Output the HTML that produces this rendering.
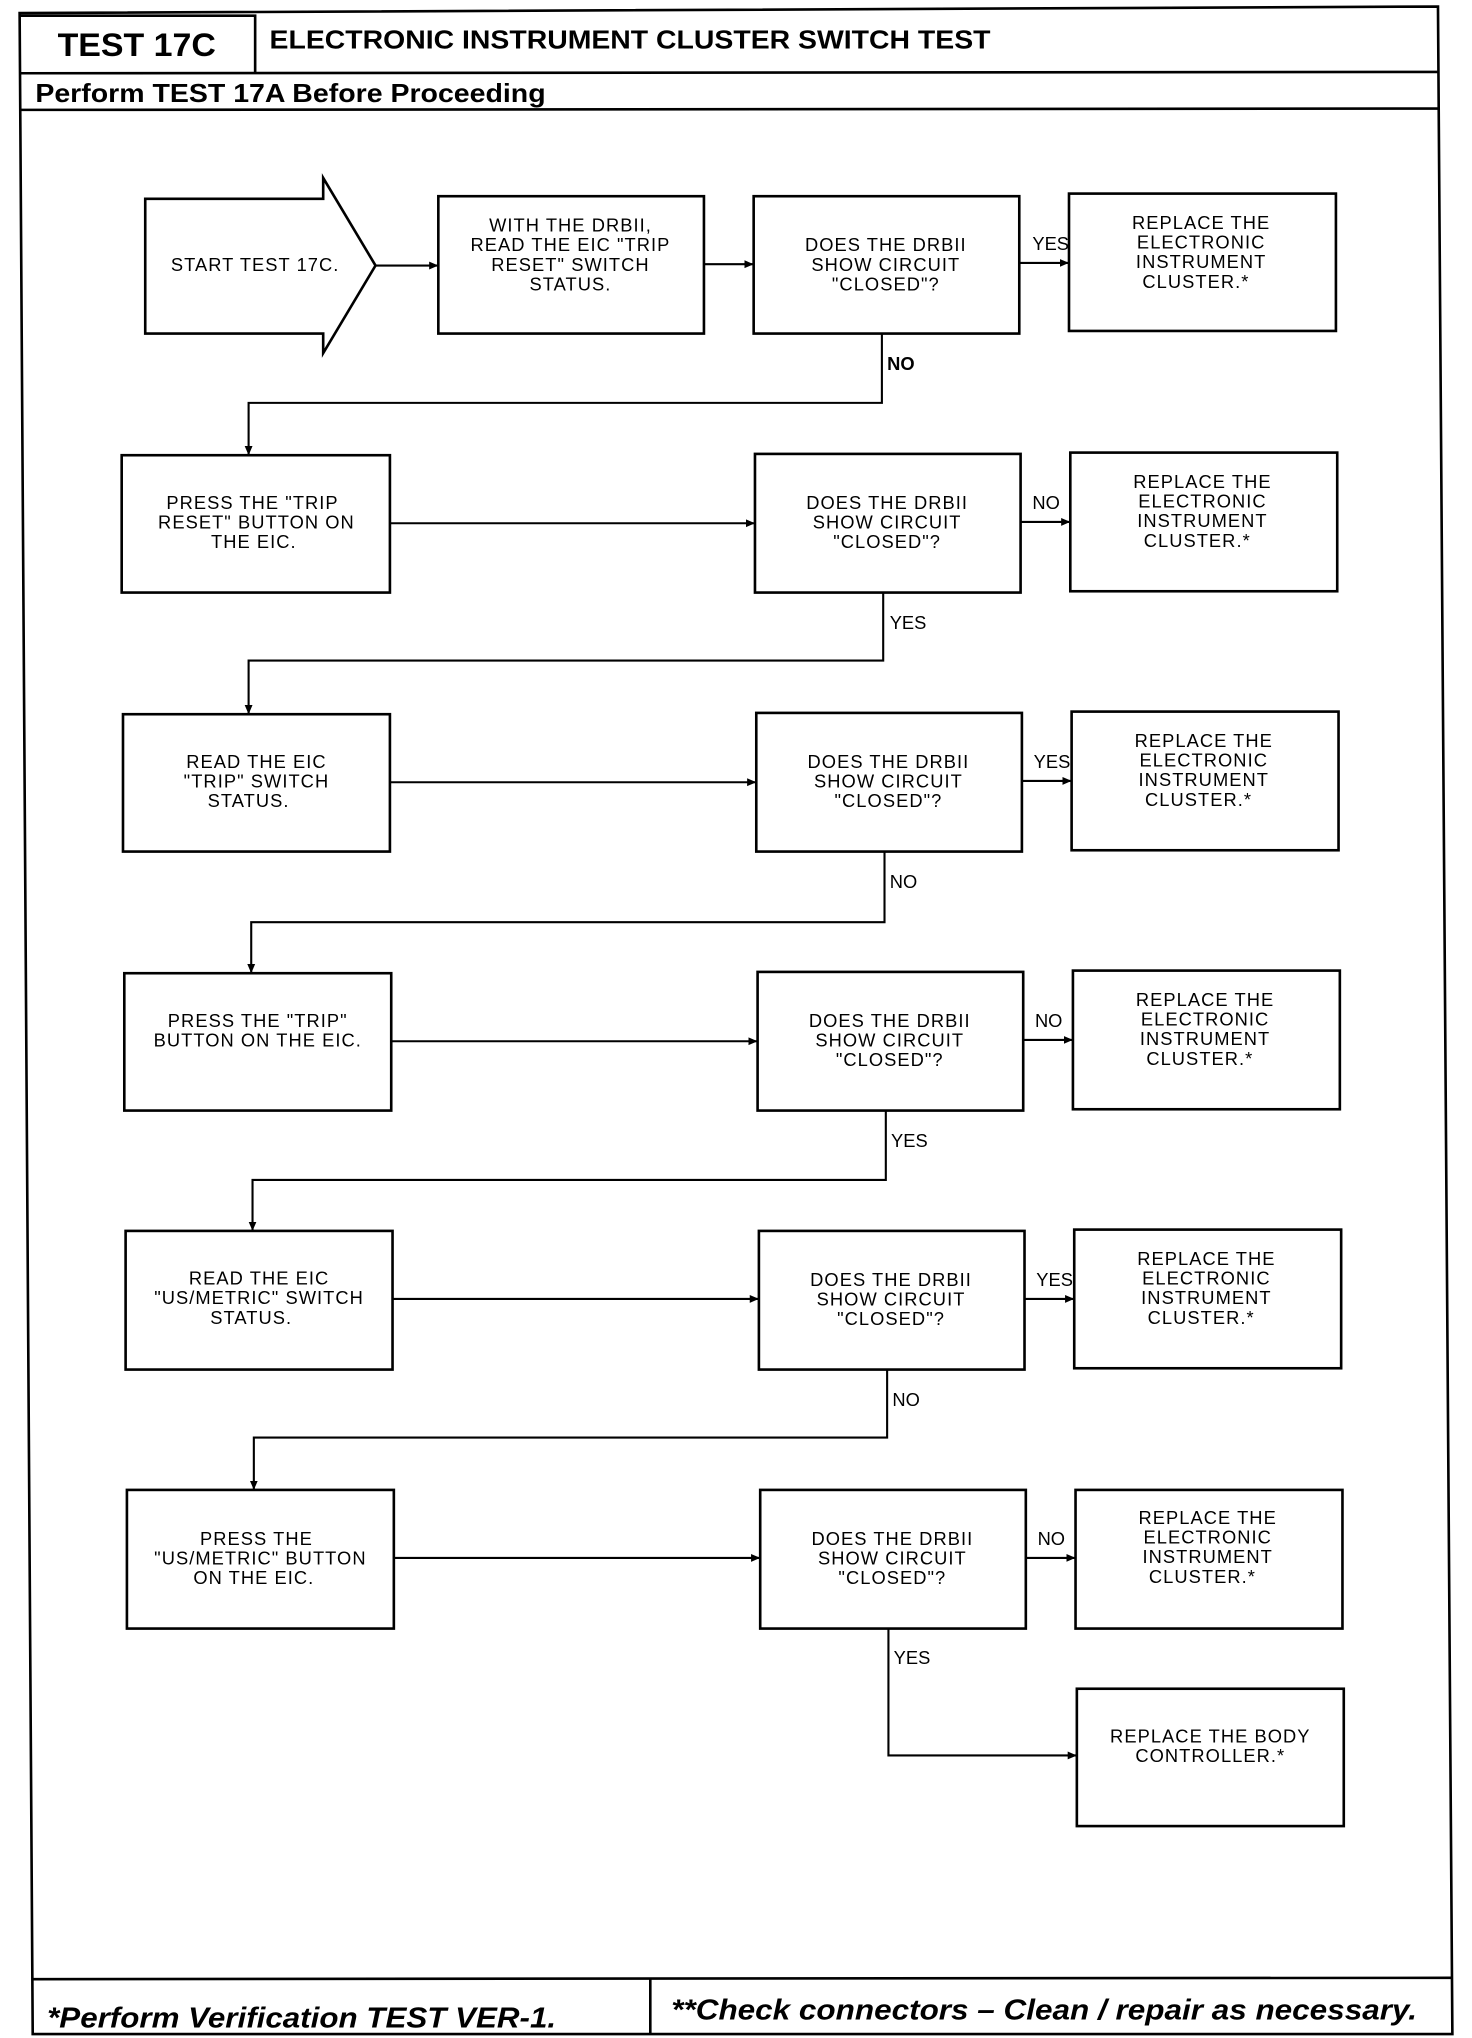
<!DOCTYPE html>
<html><head><meta charset="utf-8"><style>
html,body{margin:0;padding:0;background:#fff;}
svg{display:block;}
.b{fill:none;stroke:#000;stroke-width:2;}
.l{fill:none;stroke:#000;stroke-width:1.6;}
.t{font-family:"Liberation Sans",sans-serif;font-size:14px;letter-spacing:0.8px;text-anchor:middle;fill:#000;}
.lb{font-family:"Liberation Sans",sans-serif;font-size:14px;fill:#000;}
.h{font-family:"Liberation Sans",sans-serif;font-weight:bold;}
</style></head><body>
<svg width="1472" height="2038" viewBox="0 0 1125 1558" preserveAspectRatio="none" xmlns="http://www.w3.org/2000/svg">
<defs><marker id="a" markerWidth="8" markerHeight="8" refX="7" refY="4" orient="auto" markerUnits="userSpaceOnUse"><path d="M0,1 L7,4 L0,7 Z" fill="#000"/></marker></defs>
<path class="b" d="M15,10 L1099,5 L1110,1555 L25,1555 Z"/>
<line class="b" x1="15" y1="56" x2="1100" y2="55"/>
<line class="b" x1="16" y1="84" x2="1100" y2="83"/>
<path class="b" d="M15,12 L195,12 L195,55"/>
<text class="h" x="44" y="43" font-size="25" textLength="121" lengthAdjust="spacingAndGlyphs">TEST 17C</text>
<text class="h" x="206" y="37" font-size="20" textLength="551" lengthAdjust="spacingAndGlyphs">ELECTRONIC INSTRUMENT CLUSTER SWITCH TEST</text>
<text class="h" x="27" y="78" font-size="20" textLength="390" lengthAdjust="spacingAndGlyphs">Perform TEST 17A Before Proceeding</text>
<line class="b" x1="24" y1="1513" x2="1110" y2="1512"/>
<line class="b" x1="497" y1="1513" x2="497" y2="1555"/>
<text class="h" x="36" y="1550" font-size="22" font-style="italic" textLength="389" lengthAdjust="spacingAndGlyphs">*Perform Verification TEST VER-1.</text>
<text class="h" x="513" y="1544" font-size="22" font-style="italic" textLength="570" lengthAdjust="spacingAndGlyphs">**Check connectors – Clean / repair as necessary.</text>

<path class="b" d="M111,152 L247,152 L247,136 L287,203 L247,270 L247,255 L111,255 Z"/>
<text class="t" x="195" y="207">START TEST 17C.</text>
<rect class="b" x="335" y="150" width="203" height="105"/>
<text class="t" x="436" y="177">WITH THE DRBII,</text><text class="t" x="436" y="192">READ THE EIC "TRIP</text><text class="t" x="436" y="207">RESET" SWITCH</text><text class="t" x="436" y="222">STATUS.</text>
<rect class="b" x="576" y="150" width="203" height="105"/>
<text class="t" x="677" y="192">DOES THE DRBII</text><text class="t" x="677" y="207">SHOW CIRCUIT</text><text class="t" x="677" y="222">"CLOSED"?</text>
<rect class="b" x="817" y="148" width="204" height="105"/>
<text class="t" x="918" y="175">REPLACE THE</text><text class="t" x="918" y="190">ELECTRONIC</text><text class="t" x="918" y="205">INSTRUMENT</text><text class="t" x="914" y="220">CLUSTER.*</text>
<line class="l" x1="287" y1="203" x2="335" y2="203" marker-end="url(#a)"/>
<line class="l" x1="538" y1="202" x2="576" y2="202" marker-end="url(#a)"/>
<line class="l" x1="779" y1="201" x2="817" y2="201" marker-end="url(#a)"/>
<text class="lb" x="789" y="191">YES</text>
<polyline class="l" points="674,255 674,308 190,308 190,348" marker-end="url(#a)"/>
<text class="lb" x="678" y="283" style="font-weight:bold">NO</text>

<rect class="b" x="93" y="348" width="205" height="105"/>
<text class="t" x="193" y="389">PRESS THE "TRIP</text><text class="t" x="196" y="404">RESET" BUTTON ON</text><text class="t" x="194" y="419">THE EIC.</text>
<rect class="b" x="577" y="347" width="203" height="106"/>
<text class="t" x="678" y="389">DOES THE DRBII</text><text class="t" x="678" y="404">SHOW CIRCUIT</text><text class="t" x="678" y="419">"CLOSED"?</text>
<rect class="b" x="818" y="346" width="204" height="106"/>
<text class="t" x="919" y="373">REPLACE THE</text><text class="t" x="919" y="388">ELECTRONIC</text><text class="t" x="919" y="403">INSTRUMENT</text><text class="t" x="915" y="418">CLUSTER.*</text>
<line class="l" x1="298" y1="400" x2="577" y2="400" marker-end="url(#a)"/>
<line class="l" x1="780" y1="399" x2="818" y2="399" marker-end="url(#a)"/>
<text class="lb" x="789" y="389">NO</text>
<polyline class="l" points="675,453 675,505 190,505 190,546" marker-end="url(#a)"/>
<text class="lb" x="680" y="481">YES</text>

<rect class="b" x="94" y="546" width="204" height="105"/>
<text class="t" x="196" y="587">READ THE EIC</text><text class="t" x="196" y="602">"TRIP" SWITCH</text><text class="t" x="190" y="617">STATUS.</text>
<rect class="b" x="578" y="545" width="203" height="106"/>
<text class="t" x="679" y="587">DOES THE DRBII</text><text class="t" x="679" y="602">SHOW CIRCUIT</text><text class="t" x="679" y="617">"CLOSED"?</text>
<rect class="b" x="819" y="544" width="204" height="106"/>
<text class="t" x="920" y="571">REPLACE THE</text><text class="t" x="920" y="586">ELECTRONIC</text><text class="t" x="920" y="601">INSTRUMENT</text><text class="t" x="916" y="616">CLUSTER.*</text>
<line class="l" x1="298" y1="598" x2="578" y2="598" marker-end="url(#a)"/>
<line class="l" x1="781" y1="597" x2="819" y2="597" marker-end="url(#a)"/>
<text class="lb" x="790" y="587">YES</text>
<polyline class="l" points="676,651 676,705 192,705 192,744" marker-end="url(#a)"/>
<text class="lb" x="680" y="679">NO</text>

<rect class="b" x="95" y="744" width="204" height="105"/>
<text class="t" x="197" y="785">PRESS THE "TRIP"</text><text class="t" x="197" y="800">BUTTON ON THE EIC.</text>
<rect class="b" x="579" y="743" width="203" height="106"/>
<text class="t" x="680" y="785">DOES THE DRBII</text><text class="t" x="680" y="800">SHOW CIRCUIT</text><text class="t" x="680" y="815">"CLOSED"?</text>
<rect class="b" x="820" y="742" width="204" height="106"/>
<text class="t" x="921" y="769">REPLACE THE</text><text class="t" x="921" y="784">ELECTRONIC</text><text class="t" x="921" y="799">INSTRUMENT</text><text class="t" x="917" y="814">CLUSTER.*</text>
<line class="l" x1="299" y1="796" x2="579" y2="796" marker-end="url(#a)"/>
<line class="l" x1="782" y1="795" x2="820" y2="795" marker-end="url(#a)"/>
<text class="lb" x="791" y="785">NO</text>
<polyline class="l" points="677,849 677,902 193,902 193,941" marker-end="url(#a)"/>
<text class="lb" x="681" y="877">YES</text>

<rect class="b" x="96" y="941" width="204" height="106"/>
<text class="t" x="198" y="982">READ THE EIC</text><text class="t" x="198" y="997">"US/METRIC" SWITCH</text><text class="t" x="192" y="1012">STATUS.</text>
<rect class="b" x="580" y="941" width="203" height="106"/>
<text class="t" x="681" y="983">DOES THE DRBII</text><text class="t" x="681" y="998">SHOW CIRCUIT</text><text class="t" x="681" y="1013">"CLOSED"?</text>
<rect class="b" x="821" y="940" width="204" height="106"/>
<text class="t" x="922" y="967">REPLACE THE</text><text class="t" x="922" y="982">ELECTRONIC</text><text class="t" x="922" y="997">INSTRUMENT</text><text class="t" x="918" y="1012">CLUSTER.*</text>
<line class="l" x1="300" y1="993" x2="580" y2="993" marker-end="url(#a)"/>
<line class="l" x1="783" y1="993" x2="821" y2="993" marker-end="url(#a)"/>
<text class="lb" x="792" y="983">YES</text>
<polyline class="l" points="678,1047 678,1099 194,1099 194,1139" marker-end="url(#a)"/>
<text class="lb" x="682" y="1075">NO</text>

<rect class="b" x="97" y="1139" width="204" height="106"/>
<text class="t" x="196" y="1181">PRESS THE</text><text class="t" x="199" y="1196">"US/METRIC" BUTTON</text><text class="t" x="194" y="1211">ON THE EIC.</text>
<rect class="b" x="581" y="1139" width="203" height="106"/>
<text class="t" x="682" y="1181">DOES THE DRBII</text><text class="t" x="682" y="1196">SHOW CIRCUIT</text><text class="t" x="682" y="1211">"CLOSED"?</text>
<rect class="b" x="822" y="1139" width="204" height="106"/>
<text class="t" x="923" y="1165">REPLACE THE</text><text class="t" x="923" y="1180">ELECTRONIC</text><text class="t" x="923" y="1195">INSTRUMENT</text><text class="t" x="919" y="1210">CLUSTER.*</text>
<line class="l" x1="301" y1="1191" x2="581" y2="1191" marker-end="url(#a)"/>
<line class="l" x1="784" y1="1191" x2="822" y2="1191" marker-end="url(#a)"/>
<text class="lb" x="793" y="1181">NO</text>
<polyline class="l" points="679,1245 679,1342 823,1342" marker-end="url(#a)"/>
<text class="lb" x="683" y="1272">YES</text>
<rect class="b" x="823" y="1291" width="204" height="105"/>
<text class="t" x="925" y="1332">REPLACE THE BODY</text><text class="t" x="925" y="1347">CONTROLLER.*</text>
</svg>
</body></html>
